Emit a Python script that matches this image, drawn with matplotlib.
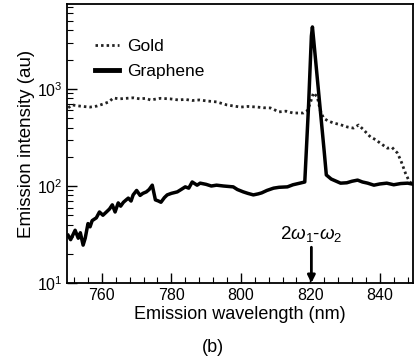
import numpy as np
import matplotlib
matplotlib.use('Agg')
import matplotlib.pyplot as plt
import matplotlib.ticker as mticker

plt.rcParams['font.family'] = ['Liberation Sans', 'DejaVu Sans']
plt.rcParams['mathtext.fontset'] = 'custom'
plt.rcParams['mathtext.rm'] = 'Liberation Sans'
plt.rcParams['mathtext.it'] = 'Liberation Sans:italic'

# gold emission (dotted)
gold_wl = [750.3, 751.5, 753.0, 754.5, 756.6, 758.5, 760.4, 762.0, 763.3, 765.0,
           767.0, 769.0, 771.0, 772.5, 774.0, 776.8, 779.7, 782.0, 784.0, 786.0,
           788.0, 790.5, 793.0, 796.0, 799.9, 802.0, 804.8, 806.5, 808.5, 811.0,
           813.0, 815.0, 818.0, 819.2, 820.0, 820.9, 822.0, 822.8, 823.8, 825.0,
           826.7, 828.5, 830.7, 832.4, 833.9, 835.3, 837.3, 838.8, 840.2, 842.2,
           843.5, 845.0, 846.0, 847.4, 848.3, 849.2]
gold_val = [640, 684, 670, 660, 650, 665, 700, 735, 807, 790,
            800, 810, 790, 800, 770, 800, 790, 770, 780, 760,
            770, 750, 735, 684, 650, 660, 650, 640, 637, 580,
            590, 565, 565, 600, 720, 910, 830, 610, 500, 470,
            445, 430, 405, 395, 425, 380, 320, 300, 275, 245,
            250, 220, 185, 135, 115, 105]

# graphene emission (solid)
gr_wl = [750.3, 751.0, 752.3, 753.2, 753.8, 754.6, 755.2, 756.0, 756.6, 757.2,
         758.4, 759.3, 760.3, 761.3, 762.2, 763.0, 763.8, 764.7, 765.4, 766.2,
         767.0, 767.6, 768.4, 769.0, 770.0, 771.0, 771.8, 772.8, 773.6, 774.5,
         775.4, 776.3, 777.0, 778.0, 778.8, 780.0, 781.7, 782.8, 784.0, 785.0,
         786.0, 787.4, 788.3, 790.0, 791.5, 793.0, 795.0, 797.8, 799.0, 800.7,
         802.0, 803.6, 805.0, 806.0, 807.5, 809.4, 811.0, 813.4, 815.0, 817.0,
         818.4, 819.5, 820.3, 820.6, 821.0, 822.0, 823.0, 824.0, 824.6, 826.0,
         828.7, 830.5, 832.0, 833.6, 835.0, 836.5, 838.3, 840.0, 842.0, 844.0,
         846.0, 848.0, 849.2]
gr_val = [31, 28, 35, 29, 33, 24.6, 29, 41, 38, 44,
          47, 54, 50, 54, 58, 64, 54, 67, 62, 68,
          72, 75, 70, 81, 90, 80, 84, 87, 92, 102,
          72, 70, 68, 76, 81, 84, 87, 92, 98, 95,
          110, 102, 107, 104, 100, 102, 100, 98, 92, 87,
          84, 81, 83, 85, 90, 95, 97, 98, 103, 107,
          110, 690, 3500, 4350, 3100, 1290, 540, 225, 130, 118,
          107, 108, 112, 115, 110, 107, 102, 105, 107, 103,
          106, 107, 105]

fig = plt.figure(figsize=(4.17, 3.62), dpi=100)
ax = fig.add_axes([0.161, 0.218, 0.829, 0.771])

ax.plot(gold_wl, gold_val, color='#222222', lw=2.0, ls=(0, (0.9, 1.1)), label='Gold')
ax.plot(gr_wl, gr_val, color='black', lw=2.5, label='Graphene')

ax.set_yscale('log')
ax.set_xlim(750, 849.5)
ax.set_ylim(10, 7500)
ax.xaxis.set_major_locator(mticker.MultipleLocator(20))
ax.xaxis.set_minor_locator(mticker.MultipleLocator(4))
ax.yaxis.set_major_locator(mticker.LogLocator(base=10))
ax.yaxis.set_minor_locator(mticker.LogLocator(base=10, subs=np.arange(2, 10)))
ax.yaxis.set_minor_formatter(mticker.NullFormatter())
ax.tick_params(which='both', direction='in', top=False, right=False, labelsize=11.5)
ax.tick_params(which='major', length=7, width=1)
ax.tick_params(which='minor', length=4, width=0.8)
for s in ax.spines.values():
    s.set_linewidth(1.3)

ax.set_xlabel('Emission wavelength (nm)', fontsize=13, labelpad=2)
ax.set_ylabel('Emission intensity (au)', fontsize=13.5, labelpad=1)

leg = ax.legend(loc='upper left', bbox_to_anchor=(0.06, 0.90), frameon=False,
                fontsize=12.5, handlelength=1.4, handletextpad=0.45, labelspacing=0.55,
                borderaxespad=0.0)
leg.get_lines()[1].set_linewidth(3.5)

ax.annotate('2$\\omega_1$-$\\omega_2$', xy=(820.3, 10), xytext=(820.3, 25),
            ha='center', va='bottom', fontsize=13.5,
            arrowprops=dict(arrowstyle='-|>', color='black', lw=2.0,
                            mutation_scale=11, shrinkA=0, shrinkB=0))

fig.text(0.51, 0.04, '(b)', ha='center', va='center', fontsize=13)

fig.savefig('out.png', dpi=100)
